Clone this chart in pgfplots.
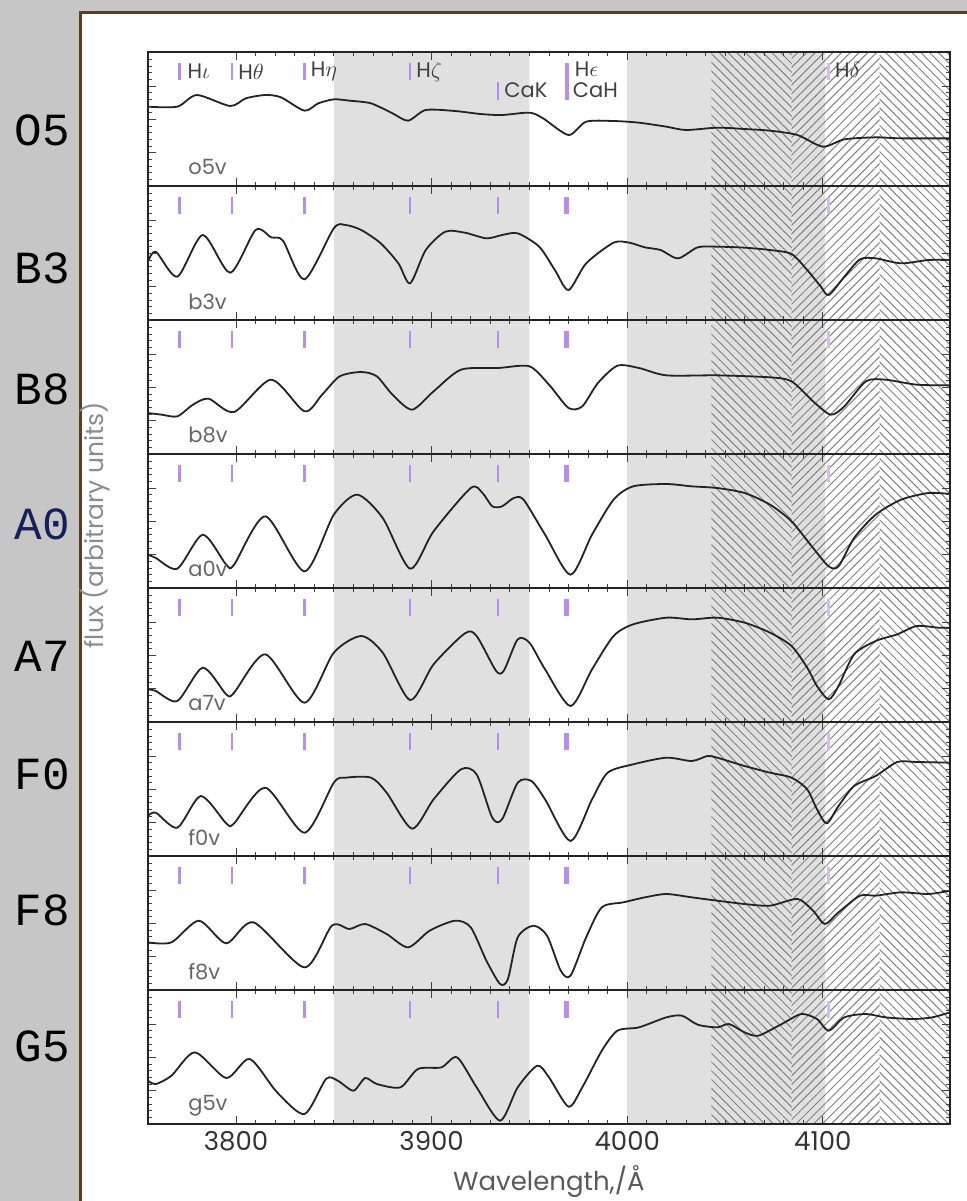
\documentclass[border=0pt]{standalone}
\usepackage{fontspec}
\setmainfont{Poppins}
\newfontfamily\monofont{Liberation Mono}
\usepackage{pgfplots}
\pgfplotsset{compat=1.18}
\usetikzlibrary{patterns.meta}

\definecolor{bg}{RGB}{198,198,198}
\definecolor{frameBrown}{RGB}{92,62,32}
\definecolor{band}{RGB}{224,224,224}
\definecolor{hatch}{RGB}{130,130,130}
\definecolor{lineMark}{RGB}{185,140,240}
\definecolor{lineMarkLight}{RGB}{212,188,246}
\definecolor{navy}{RGB}{22,30,92}
\definecolor{specline}{RGB}{35,35,35}

\pgfplotsset{
  panel/.style={
    anchor=north west, width=401pt, height=67pt, scale only axis,
    xmin=3755, xmax=4165, ymin=0, ymax=402,
    axis line style={specline, line width=0.9pt},
    xtick={3800,3900,4000,4100}, minor x tick num=9,
    ytick={0,100,...,400}, minor y tick num=4,
    tick align=inside, major tick length=4pt, minor tick length=2pt,
    every tick/.style={black!75, line width=0.4pt},
    xticklabels={}, yticklabels={},
    axis on top,
  },
  spec/.style={specline, line width=0.9pt, smooth, tension=0.45, no marks},
  mk/.style={lineMark, line width=1.3pt, no marks, forget plot},
}
\tikzset{
  lbl/.style={anchor=west, text=black!60, font=\fontsize{10.5}{10.5}\selectfont},
  ann/.style={anchor=west, text=black!75, font=\fontsize{10.5}{10.5}\selectfont, inner sep=1pt},
}

% shaded comparison bands and hatched windows common to every panel
\newcommand{\bands}{%
  \addplot[fill=band, draw=none, forget plot] coordinates {(3850,0)(3850,402)(3950,402)(3950,0)} \closedcycle;
  \addplot[fill=band, draw=none, forget plot] coordinates {(4000,0)(4000,402)(4101,402)(4101,0)} \closedcycle;
  \addplot[draw=none, forget plot, pattern={Lines[angle=-45,distance=3.1pt,line width=0.5pt]}, pattern color=hatch] coordinates {(4043,0)(4043,402)(4084,402)(4084,0)} \closedcycle;
  \addplot[draw=none, forget plot, pattern={Lines[angle=45,distance=3.1pt,line width=0.5pt]}, pattern color=hatch] coordinates {(4084,0)(4084,402)(4129,402)(4129,0)} \closedcycle;
  \addplot[draw=none, forget plot, pattern={Lines[angle=-45,distance=3.1pt,line width=0.5pt]}, pattern color=hatch] coordinates {(4129,0)(4129,402)(4165,402)(4165,0)} \closedcycle;
}
% line identification ticks
\newcommand{\linemarks}{%
  \pgfplotsinvokeforeach{3771,3798,3835,3889,3934}{\addplot[mk] coordinates {(##1,318)(##1,368)};}
  \addplot[mk, line width=2.2pt] coordinates {(3969,318)(3969,368)};
  \addplot[mk, lineMarkLight] coordinates {(4103,318)(4103,368)};
}

\begin{document}
\begin{tikzpicture}
\useasboundingbox (0,0) rectangle (483.5pt,-600.5pt);
\begin{scope}[x=0.5pt,y=-0.5pt]
  \fill[bg] (0,0) rectangle (967,1201);
  \fill[white] (80,12) rectangle (1000,1240);
  \draw[frameBrown, line width=1.5pt] (80,1240) -- (80,12) -- (1000,12);
  \begin{scope}[every node/.style={anchor=east, font=\monofont\fontsize{23}{23}\selectfont}]
    \node at (77,130) {O5};
    \node at (77,268) {B3};
    \node at (77,389) {B8};
    \node[text=navy] at (77,524) {A0};
    \node at (77,656) {A7};
    \node at (77,774) {F0};
    \node at (77,910) {F8};
    \node at (77,1046) {G5};
  \end{scope}
  \node[rotate=90, text=black!45, font=\fontsize{12.5}{12.5}\selectfont] at (95,525) {flux (arbitrary units)};
  \node[text=black!65, font=\fontsize{13}{13}\selectfont] at (549,1181) {Wavelength,/Å};
\end{scope}

% o5v
\begin{axis}[panel, at={(74pt,-26pt)}]
  \bands
  \pgfplotsinvokeforeach{3771,3798,3835,3889}{\addplot[mk] coordinates {(#1,318)(#1,368)};}
  \addplot[mk] coordinates {(3934,258)(3934,313)};
  \addplot[mk, line width=2pt] coordinates {(3969,258)(3969,368)};
  \addplot[mk, lineMarkLight] coordinates {(4103,318)(4103,368)};
  \addplot[spec] coordinates {(3755,238)(3770,238)(3780,273)(3797,240)(3805,263)(3815,273)(3823,266)(3835,226)(3842,248)(3850,260)(3858,256)(3869,248)(3880,218)(3888,196)(3897,228)(3912,225)(3925,216)(3936,213)(3950,220)(3957,203)(3970,153)(3979,193)(3993,195)(4006,190)(4020,178)(4030,168)(4046,175)(4060,171)(4073,166)(4087,153)(4100,118)(4111,140)(4127,146)(4140,143)(4165,143)};
  \node[ann] at (axis cs:3774,343) {H$\iota$};
  \node[ann] at (axis cs:3800,343) {H$\theta$};
  \node[ann] at (axis cs:3837,343) {H$\eta$};
  \node[ann] at (axis cs:3891,343) {H$\zeta$};
  \node[ann] at (axis cs:3936,286) {CaK};
  \node[ann] at (axis cs:3972,350) {H$\epsilon$};
  \node[ann] at (axis cs:3971,288) {CaH};
  \node[ann] at (axis cs:4105,348) {H$\delta$};
  \node[lbl] at (axis cs:3772,56) {o5v};
\end{axis}

% b3v
\begin{axis}[panel, at={(74pt,-93pt)}]
  \bands
  \linemarks
  \addplot[spec] coordinates {(3755,175)(3759,205)(3770,130)(3783,255)(3797,142)(3810,270)(3818,248)(3824,238)(3835,122)(3850,275)(3856,285)(3864,270)(3874,230)(3883,170)(3889,110)(3897,210)(3907,265)(3917,262)(3928,245)(3936,255)(3944,260)(3955,220)(3963,150)(3970,90)(3979,170)(3993,232)(4001,232)(4009,218)(4017,210)(4026,185)(4036,218)(4046,220)(4060,217)(4073,210)(4084,198)(4092,150)(4099,100)(4103,75)(4111,130)(4119,182)(4127,185)(4140,170)(4154,180)(4165,180)};
  \node[lbl] at (axis cs:3772,56) {b3v};
\end{axis}

% b8v
\begin{axis}[panel, at={(74pt,-160pt)}]
  \bands
  \linemarks
  \addplot[spec] coordinates {(3755,123)(3762,118)(3770,113)(3778,148)(3786,166)(3799,126)(3818,223)(3835,128)(3844,178)(3853,233)(3864,246)(3872,233)(3880,178)(3890,133)(3901,188)(3915,253)(3934,258)(3950,263)(3960,208)(3970,138)(3977,143)(3985,213)(3995,265)(4006,258)(4020,236)(4046,236)(4073,230)(4084,218)(4095,158)(4104,118)(4111,143)(4122,218)(4132,223)(4148,208)(4165,206)};
  \node[lbl] at (axis cs:3772,56) {b8v};
\end{axis}

% a0v
\begin{axis}[panel, at={(74pt,-227pt)}]
  \bands
  \linemarks
  \addplot[spec] coordinates {(3755,100)(3759,90)(3770,58)(3783,160)(3795,70)(3799,70)(3815,215)(3835,50)(3850,220)(3862,280)(3875,210)(3889,58)(3901,170)(3920,300)(3926,285)(3931,245)(3936,245)(3942,270)(3947,265)(3958,160)(3971,40)(3982,160)(3993,265)(4003,305)(4020,312)(4033,305)(4046,300)(4060,285)(4073,250)(4084,200)(4095,120)(4103,65)(4108,65)(4116,150)(4127,220)(4140,265)(4154,285)(4165,282)};
  \node[lbl] at (axis cs:3772,56) {a0v};
\end{axis}

% a7v
\begin{axis}[panel, at={(74pt,-294pt)}]
  \bands
  \linemarks
  \addplot[spec] coordinates {(3755,98)(3759,93)(3770,63)(3783,163)(3795,83)(3799,88)(3815,203)(3835,58)(3850,208)(3864,258)(3875,208)(3889,66)(3901,173)(3917,266)(3923,258)(3933,153)(3937,155)(3944,248)(3950,238)(3958,158)(3971,48)(3982,158)(3993,258)(4003,293)(4020,313)(4033,308)(4046,313)(4060,298)(4073,268)(4084,228)(4092,163)(4097,108)(4103,68)(4108,108)(4116,203)(4127,243)(4138,263)(4148,288)(4159,283)(4165,283)};
  \node[lbl] at (axis cs:3772,56) {a7v};
\end{axis}

% f0v
\begin{axis}[panel, at={(74pt,-361pt)}]
  \bands
  \linemarks
  \addplot[spec] coordinates {(3755,120)(3759,130)(3770,85)(3782,180)(3795,98)(3799,98)(3815,205)(3835,70)(3850,220)(3856,235)(3869,235)(3877,190)(3890,82)(3901,170)(3915,260)(3923,245)(3931,115)(3936,110)(3944,220)(3951,225)(3958,170)(3971,45)(3982,170)(3990,250)(4003,275)(4020,295)(4033,285)(4041,300)(4046,295)(4060,270)(4073,250)(4084,235)(4092,200)(4097,140)(4102,98)(4108,150)(4116,210)(4127,240)(4138,282)(4148,282)(4165,280)};
  \node[lbl] at (axis cs:3772,56) {f0v};
\end{axis}

% f8v
\begin{axis}[panel, at={(74pt,-428pt)}]
  \bands
  \linemarks
  \addplot[spec] coordinates {(3755,143)(3767,143)(3781,208)(3795,140)(3809,203)(3835,68)(3849,193)(3858,183)(3866,198)(3877,168)(3888,128)(3899,178)(3912,208)(3920,188)(3928,88)(3935,18)(3939,33)(3944,158)(3952,193)(3959,163)(3966,58)(3971,43)(3979,158)(3987,248)(3998,263)(4009,278)(4020,288)(4033,278)(4046,268)(4060,258)(4073,253)(4087,273)(4095,238)(4101,198)(4108,233)(4119,283)(4127,283)(4140,293)(4154,288)(4165,298)};
  \node[lbl] at (axis cs:3772,56) {f8v};
\end{axis}

% g5v
\begin{axis}[panel, at={(74pt,-495pt)},
    xticklabels={3800,3900,4000,4100},
    xticklabel style={font=\fontsize{13}{13}\selectfont, text=black!80}]
  \bands
  \linemarks
  \addplot[spec] coordinates {(3755,130)(3759,120)(3767,145)(3779,215)(3795,138)(3807,195)(3821,95)(3835,30)(3846,135)(3852,130)(3860,100)(3866,138)(3872,120)(3884,110)(3893,165)(3905,170)(3913,200)(3923,110)(3935,10)(3944,110)(3954,175)(3960,140)(3970,52)(3977,110)(3987,220)(3995,280)(4006,290)(4020,320)(4028,325)(4036,298)(4046,290)(4052,300)(4060,275)(4067,265)(4079,300)(4089,330)(4097,315)(4103,280)(4111,320)(4122,330)(4132,320)(4146,315)(4156,320)(4165,335)};
  \node[lbl] at (axis cs:3772,56) {g5v};
\end{axis}
\end{tikzpicture}
\end{document}
